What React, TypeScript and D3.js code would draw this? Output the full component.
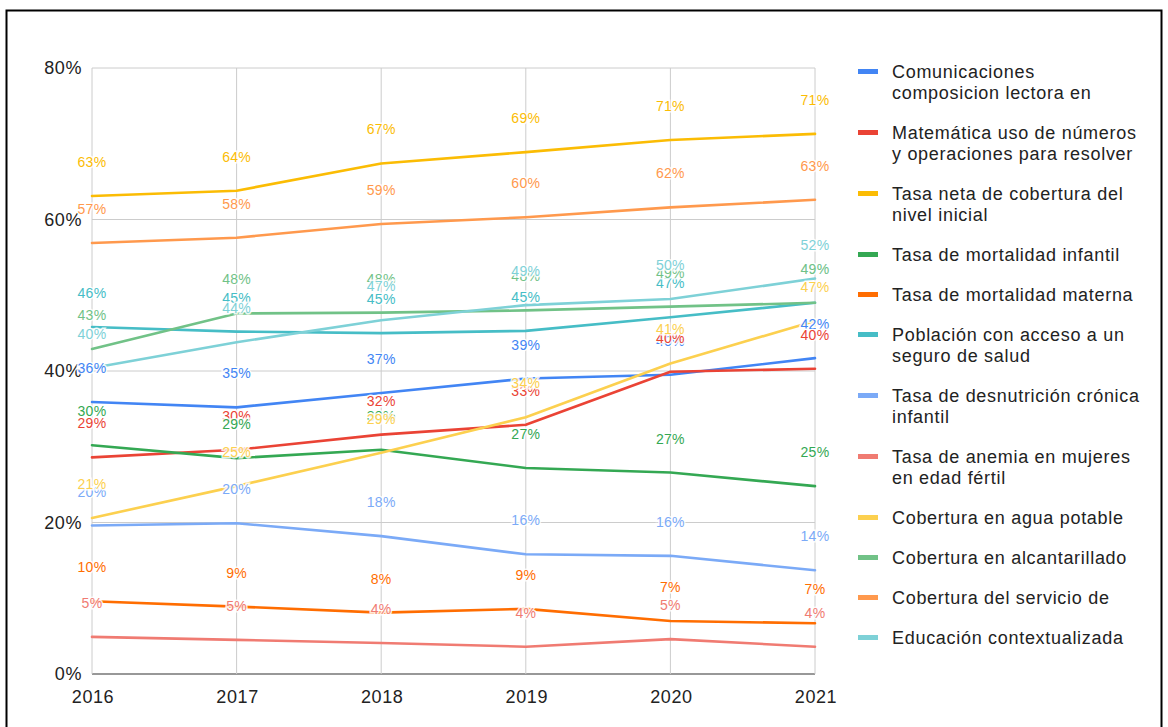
import React from "react";
import * as d3 from "d3";

const years = ["2016", "2017", "2018", "2019", "2020", "2021"];
const yTicks = [0, 20, 40, 60, 80];

const seriesNames = [
  ["Comunicaciones", "composicion lectora en"],
  ["Matemática uso de números", "y operaciones para resolver"],
  ["Tasa neta de cobertura del", "nivel inicial"],
  ["Tasa de mortalidad infantil"],
  ["Tasa de mortalidad materna"],
  ["Población con acceso a un", "seguro de salud"],
  ["Tasa de desnutrición crónica", "infantil"],
  ["Tasa de anemia en mujeres", "en edad fértil"],
  ["Cobertura en agua potable"],
  ["Cobertura en alcantarillado"],
  ["Cobertura del servicio de"],
  ["Educación contextualizada"],
];

const seriesColors = [
  "#4285F4", "#EA4335", "#FBBC04", "#34A853", "#FF6D01", "#46BDC6",
  "#7BAAF7", "#F07B72", "#FCD04F", "#71C287", "#FF994D", "#7ED1D7",
];

const comunicaciones = [35.9, 35.2, 37.1, 39.0, 39.5, 41.7];
const matematica = [28.6, 29.6, 31.6, 32.9, 39.9, 40.3];
const tasaNeta = [63.1, 63.8, 67.4, 68.9, 70.5, 71.3];
const mortInfantil = [30.2, 28.5, 29.6, 27.2, 26.6, 24.8];
const mortMaterna = [9.6, 8.9, 8.1, 8.6, 7.0, 6.7];
const poblacionSeguro = [45.8, 45.2, 45.0, 45.3, 47.1, 49.0];
const desnutricion = [19.6, 19.9, 18.2, 15.8, 15.6, 13.7];
const anemia = [4.9, 4.5, 4.1, 3.6, 4.6, 3.6];
const aguaPotable = [20.6, 24.8, 29.2, 33.9, 41.0, 46.6];
const alcantarillado = [42.9, 47.6, 47.7, 48.0, 48.5, 49.0];
const servicio = [56.9, 57.6, 59.4, 60.3, 61.6, 62.6];
const educacion = [40.4, 43.8, 46.7, 48.7, 49.5, 52.2];

const seriesValues = [
  comunicaciones, matematica, tasaNeta, mortInfantil, mortMaterna, poblacionSeguro,
  desnutricion, anemia, aguaPotable, alcantarillado, servicio, educacion,
];

const FONT = "'Liberation Sans', Arial, sans-serif";

export default function App() {
  const W = 1168;
  const H = 727;
  const x = d3.scalePoint<string>().domain(years).range([92, 815]);
  const y = d3.scaleLinear().domain([0, 80]).range([674, 68]);
  const line = d3
    .line<number>()
    .x((_, i) => x(years[i]) as number)
    .y((v) => y(v));

  const legendItems: { name: string[]; color: string; base: number }[] = [];
  let base = 78;
  seriesNames.forEach((name, i) => {
    legendItems.push({ name, color: seriesColors[i], base });
    base += (name.length - 1) * 21 + 40;
  });

  return (
    <svg
      width={W}
      height={H}
      style={{ position: "absolute", left: 0, top: 0, background: "#fff" }}
      fontFamily={FONT}
    >
      <rect x={0} y={0} width={W} height={H} fill="#fff" />
      <rect x={6.5} y={10.5} width={1155} height={740} fill="none" stroke="#000" strokeWidth={2} />

      {yTicks.map((t) => (
        <line
          key={"h" + t}
          x1={92}
          x2={815}
          y1={y(t)}
          y2={y(t)}
          stroke={t === 0 ? "#333" : "#ccc"}
          strokeWidth={t === 0 ? 1.2 : 1}
        />
      ))}
      {years.map((yr) => (
        <line
          key={"v" + yr}
          x1={x(yr)}
          x2={x(yr)}
          y1={y(80)}
          y2={y(0)}
          stroke="#ccc"
          strokeWidth={1}
        />
      ))}

      {yTicks.map((t) => (
        <text
          key={"yl" + t}
          x={82}
          y={y(t) + 6}
          textAnchor="end"
          fontSize={18}
          letterSpacing={0.6}
          fill="#222"
        >
          {t + "%"}
        </text>
      ))}
      {years.map((yr) => (
        <text
          key={"xl" + yr}
          x={(x(yr) as number) + 1}
          y={703}
          textAnchor="middle"
          fontSize={18}
          letterSpacing={0.6}
          fill="#222"
        >
          {yr}
        </text>
      ))}

      {seriesValues.map((vals, i) => (
        <path
          key={"l" + i}
          d={line(vals) || ""}
          fill="none"
          stroke={seriesColors[i]}
          strokeWidth={2.6}
          strokeLinejoin="round"
          strokeLinecap="round"
        />
      ))}

      {seriesValues.map((vals, i) =>
        vals.map((v, j) => (
          <text
            key={"d" + i + "-" + j}
            x={x(years[j])}
            y={y(v) - 29}
            textAnchor="middle"
            fontSize={14}
            letterSpacing={0.3}
            fill={seriesColors[i]}
            stroke="#fff"
            strokeWidth={3}
            strokeOpacity={0.85}
            style={{ paintOrder: "stroke" }}
          >
            {Math.round(v) + "%"}
          </text>
        ))
      )}

      {legendItems.map((it, i) => (
        <g key={"lg" + i}>
          <rect x={858} y={it.base - 9} width={20} height={5} fill={it.color} />
          {it.name.map((ln, k) => (
            <text
              key={k}
              x={892}
              y={it.base + k * 21}
              fontSize={18}
              letterSpacing={0.7}
              fill="#222"
            >
              {ln}
            </text>
          ))}
        </g>
      ))}
    </svg>
  );
}
